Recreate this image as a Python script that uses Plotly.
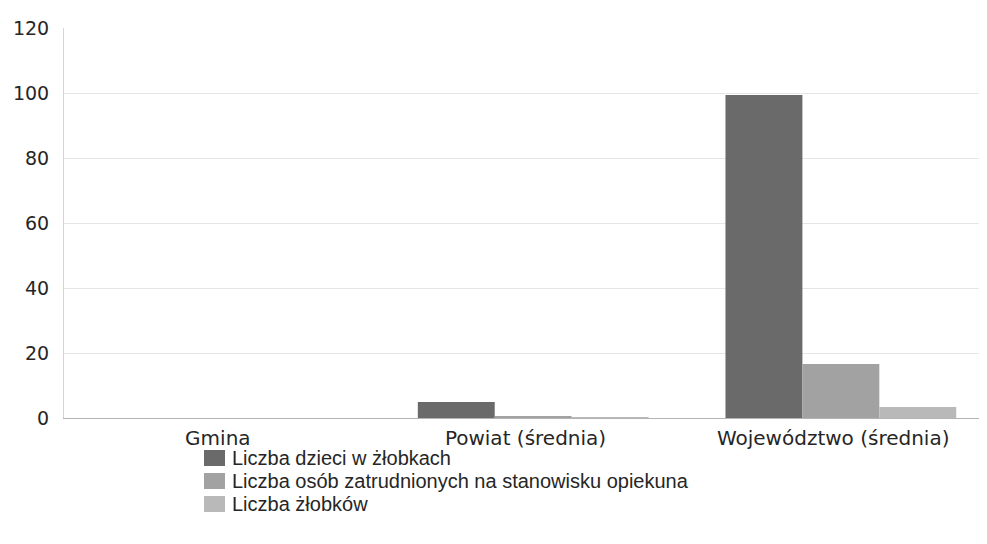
import plotly.graph_objects as go

categories = ["Gmina", "Powiat (średnia)", "Województwo (średnia)"]
series_names = [
    "Liczba dzieci w żłobkach",
    "Liczba osób zatrudnionych na stanowisku opiekuna",
    "Liczba żłobków",
]
dzieci = [0, 4.9, 99.4]
opiekunowie = [0, 0.5, 16.6]
zlobki = [0, 0.1, 3.4]
colors = ["#6a6a6a", "#a2a2a2", "#b9b9b9"]
y_ticks = [0, 20, 40, 60, 80, 100, 120]

# figure geometry (page is offset by 8px body margin)
W, H = 979, 536
ML, MR, MT, MB = 56, 0, 20, 126
PW, PH = W - ML - MR, H - MT - MB


def px_to_paper_x(px):
    return (px - 8 - ML) / PW


def py_to_paper_y(py):
    return (H - MB - (py - 8)) / PH


fig = go.Figure()
bar_w = 0.25
for i, (name, vals, col) in enumerate(zip(series_names, [dzieci, opiekunowie, zlobki], colors)):
    fig.add_trace(go.Bar(
        x=categories, y=vals, name=name,
        width=bar_w, offset=-1.5 * bar_w + i * bar_w + 0.025,
        marker=dict(color=col, line=dict(width=0)),
        showlegend=False,
    ))

# custom legend (text from series_names, colours from colors)
line_y = [458, 481, 504]
for name, col, ly in zip(series_names, colors, line_y):
    fig.add_shape(
        type="rect", xref="paper", yref="paper",
        x0=px_to_paper_x(204), x1=px_to_paper_x(225),
        y0=py_to_paper_y(ly + 8), y1=py_to_paper_y(ly - 8),
        fillcolor=col, line=dict(width=0),
    )
    fig.add_annotation(
        text=name, xref="paper", yref="paper",
        x=px_to_paper_x(231), y=py_to_paper_y(ly),
        xanchor="left", yanchor="middle", showarrow=False,
        borderpad=0,
        font=dict(family="Liberation Sans, Arial", size=20, color="#262626"),
    )

fig.update_layout(
    width=W, height=H,
    margin=dict(l=ML, r=MR, t=MT, b=MB),
    paper_bgcolor="white", plot_bgcolor="white",
    barmode="group",
    showlegend=False,
    font=dict(family="DejaVu Sans", size=19, color="#262626"),
)
fig.update_yaxes(
    range=[0, 120], tickvals=y_ticks, showgrid=True, gridcolor="#e6e6e6", gridwidth=1,
    showline=True, linecolor="#d4d4d4", linewidth=1, ticks="", zeroline=False,
    tickfont=dict(family="DejaVu Sans", size=19, color="#262626"), ticklabelstandoff=10,
)
fig.update_xaxes(
    showline=True, linecolor="#b4b4b4", linewidth=1, ticks="",
    tickfont=dict(family="DejaVu Sans", size=20, color="#262626"), ticklabelstandoff=2,
)
fig.write_html("out.html")
